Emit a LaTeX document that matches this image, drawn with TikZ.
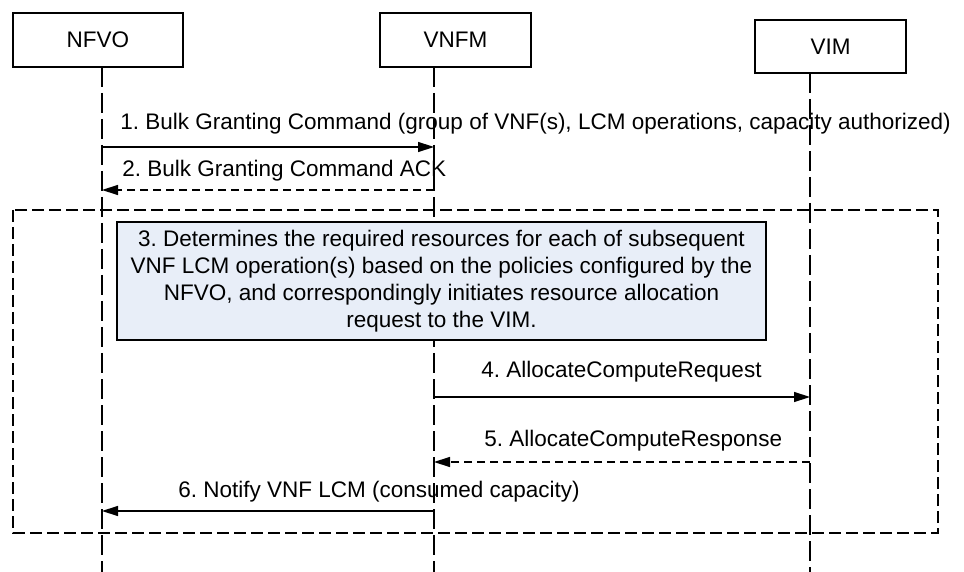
\documentclass[tikz,border=0pt]{standalone}
\usepackage{fontspec}
\setmainfont{Liberation Sans}
\usetikzlibrary{arrows.meta,positioning}
\definecolor{notefill}{RGB}{232,238,248}
\frenchspacing

\begin{document}
\begin{tikzpicture}[x=0.5pt, y=-0.5pt, every node/.style={font=\fontsize{11.25}{13.5}\selectfont}]
    \tikzstyle{entity} = [draw=black, line width=0.7pt, minimum height=27pt, inner sep=0pt]
    \tikzstyle{lifeline} = [line width=0.6pt, dash pattern=on 10pt off 3pt]
    \tikzstyle{frame} = [line width=0.6pt, dash pattern=on 6pt off 2.5pt]
    \tikzstyle{note} = [draw=black, fill=notefill, line width=0.6pt, align=center, inner sep=0pt]
    \tikzstyle{msg} = [line width=0.7pt, -{Triangle[length=8pt,width=5pt]}]
    \tikzstyle{reply} = [msg, dash pattern=on 4pt off 2.5pt]
    \tikzstyle{msgtext} = [anchor=base west, inner sep=0pt]

    \useasboundingbox (0,0) rectangle (964,572);

    \node[entity, minimum width=85pt] (nfvo) at (98,40) {NFVO};
    \node[entity, minimum width=75.5pt] (vnfm) at (455.5,40) {VNFM};
    \node[entity, minimum width=75.5pt, minimum height=26.5pt] (vim) at (830.5,46.5) {VIM};

    % lifelines
    \coordinate (nfvotop) at (102,67);
    \coordinate (nfvoend) at (102,572);
    \coordinate (vnfmtop) at (434,67);
    \coordinate (vnfmend) at (434,572);
    \coordinate (vimtop) at (810,73);
    \coordinate (vimend) at (810,572);
    \draw[lifeline] (nfvotop) -- (nfvoend);
    \draw[lifeline] (vnfmtop) -- (vnfmend);
    \draw[lifeline] (vimtop) -- (vimend);

    \draw[frame] (13,210) rectangle (938,533);

    \node[note, minimum width=324.5pt, minimum height=59pt] (determine) at (441.5,281)
        {3. Determines the required resources for each of subsequent\\
         VNF LCM operation(s) based on the policies configured by the\\
         NFVO, and correspondingly initiates resource allocation\\
         request to the VIM.};

    % message ends on the lifelines
    \coordinate (n1) at (102,147);
    \coordinate (v1) at (434,147);
    \coordinate (n2) at (102,190);
    \coordinate (v2) at (434,190);
    \coordinate (v4) at (434,397);
    \coordinate (i4) at (810,397);
    \coordinate (v5) at (434,462);
    \coordinate (i5) at (810,462);
    \coordinate (n6) at (102,511);
    \coordinate (v6) at (434,511);

    \draw[msg] (n1)--(v1);
    \draw[reply] (v2)--(n2);
    \draw[msg] (v4)--(i4);
    \draw[reply] (i5)--(v5);
    \draw[msg] (v6)--(n6);

    \node[msgtext] (t1) at (120,130) {1. Bulk Granting Command (group of VNF(s), LCM operations, capacity authorized)};
    \node[msgtext] (t2) at (122,177) {2. Bulk Granting Command ACK};
    \node[msgtext] (t4) at (481,378) {4. AllocateComputeRequest};
    \node[msgtext] (t5) at (484,446) {5. AllocateComputeResponse};
    \node[msgtext] (t6) at (178,497) {6. Notify VNF LCM (consumed capacity)};
\end{tikzpicture}
\end{document}
